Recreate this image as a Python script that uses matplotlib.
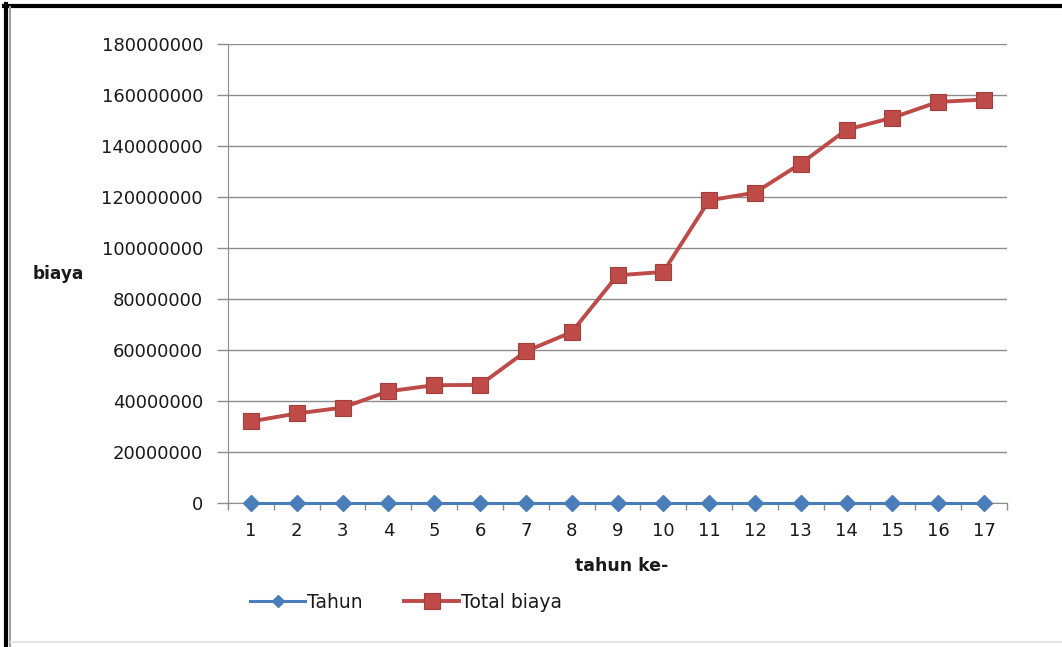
import matplotlib
matplotlib.use("Agg")
import matplotlib.pyplot as plt
from matplotlib.lines import Line2D
from matplotlib.ticker import FixedLocator, FixedFormatter

# ---- data ----
tahun_ke = [1, 2, 3, 4, 5, 6, 7, 8, 9, 10, 11, 12, 13, 14, 15, 16, 17]
tahun = [1, 2, 3, 4, 5, 6, 7, 8, 9, 10, 11, 12, 13, 14, 15, 16, 17]
total_biaya = [32000000, 35100000, 37400000, 43800000, 46200000, 46300000,
               59500000, 67000000, 89300000, 90600000, 118700000, 121700000,
               133100000, 146400000, 151100000, 157300000, 158200000]
y_ticks = [0, 20000000, 40000000, 60000000, 80000000, 100000000,
           120000000, 140000000, 160000000, 180000000]

BLUE = "#4A7EBB"
RED = "#BE4B48"
GRID = "#8C8C8C"
TXT = "#1a1a1a"

plt.rcParams["font.family"] = ["DejaVu Sans"]

fig = plt.figure(figsize=(10.62, 6.47), dpi=100)
ax = fig.add_axes([228 / 1062, 1 - 503 / 647, (1007 - 228) / 1062, (503 - 44) / 647])

ax.plot(tahun_ke, tahun, color=BLUE, lw=2.2, marker="D", ms=8,
        markerfacecolor=BLUE, markeredgecolor=BLUE, label="Tahun",
        zorder=4, clip_on=False)
ax.plot(tahun_ke, total_biaya, color=RED, lw=2.8, marker="s", ms=11.5,
        markerfacecolor=RED, markeredgecolor="#A33E3B", markeredgewidth=0.8,
        label="Total biaya", zorder=5, clip_on=False)

ax.set_xlim(0.5, len(tahun_ke) + 0.5)
ax.set_ylim(y_ticks[0], y_ticks[-1])

# y axis: gridlines and plain integer labels
ax.set_yticks(y_ticks)
ax.set_yticklabels([str(v) for v in y_ticks])
ax.yaxis.grid(True, color=GRID, lw=1.0)
ax.set_axisbelow(True)
ax.tick_params(axis="y", length=8, width=1, color=GRID, pad=10,
               labelsize=13, labelcolor=TXT)

# x axis: ticks between categories, labels at category centres
ax.xaxis.set_major_locator(FixedLocator([k + 0.5 for k in range(0, len(tahun_ke) + 1)]))
ax.xaxis.set_major_formatter(FixedFormatter([""] * (len(tahun_ke) + 1)))
ax.xaxis.set_minor_locator(FixedLocator(tahun_ke))
ax.xaxis.set_minor_formatter(FixedFormatter([str(t) for t in tahun_ke]))
ax.tick_params(axis="x", which="major", length=5, width=1, color=GRID, direction="out")
ax.tick_params(axis="x", which="minor", length=0, pad=14, labelsize=13, labelcolor=TXT)

for side in ("top", "right"):
    ax.spines[side].set_visible(False)
ax.spines["left"].set_color(GRID)
ax.spines["bottom"].set_color(GRID)

fig.text(575 / 1062, 1 - 566 / 647, "tahun ke-", fontsize=12.5, fontweight="bold",
         color=TXT, ha="left", va="center")
fig.text(33 / 1062, 1 - 274 / 647, "biaya", fontsize=12.2, fontweight="bold",
         color=TXT, ha="left", va="center")

leg = fig.legend(loc="center left", bbox_to_anchor=(250 / 1062, 1 - 602 / 647), ncol=2,
                 frameon=False, fontsize=13.5, handlelength=2.95, handletextpad=0.1,
                 columnspacing=2.2, borderpad=0, borderaxespad=0, labelcolor=TXT)
for h in leg.legend_handles:
    if h.get_marker() == "D":
        h.set_markersize(6.5)

# outer frame of the picture
fig.add_artist(Line2D([4 / 1062, 1], [1 - 5.5 / 647] * 2, transform=fig.transFigure,
                      color="black", lw=3.0))
fig.add_artist(Line2D([6 / 1062] * 2, [0, 1 - 4 / 647], transform=fig.transFigure,
                      color="black", lw=3.0))
fig.add_artist(Line2D([10 / 1062] * 2, [0, 1 - 7 / 647], transform=fig.transFigure,
                      color="#A0A0A0", lw=1.5))
fig.add_artist(Line2D([11 / 1062, 1], [1 - 642 / 647] * 2, transform=fig.transFigure,
                      color="#E6E6E6", lw=1.5))

fig.savefig("out.png", dpi=100)
